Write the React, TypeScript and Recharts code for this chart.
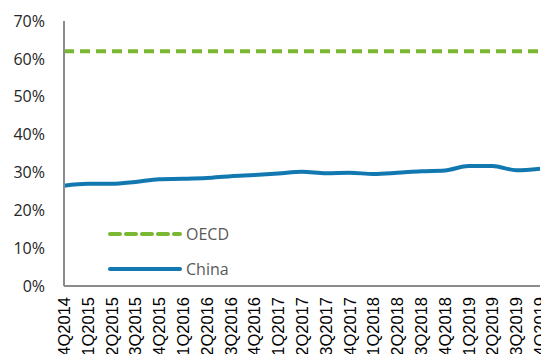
import React from 'react';
import { LineChart, Line, XAxis, YAxis } from 'recharts';

const quarters = [
  '4Q2014', '1Q2015', '2Q2015', '3Q2015', '4Q2015', '1Q2016', '2Q2016', '3Q2016', '4Q2016',
  '1Q2017', '2Q2017', '3Q2017', '4Q2017', '1Q2018', '2Q2018', '3Q2018', '4Q2018',
  '1Q2019', '2Q2019', '3Q2019', '4Q2019',
];
const chinaValues = [
  26.5, 27.0, 27.0, 27.5, 28.2, 28.3, 28.5, 29.0, 29.3, 29.7, 30.2, 29.8, 29.9, 29.6, 29.9,
  30.3, 30.5, 31.7, 31.7, 30.6, 31.0,
];
const oecdValues = quarters.map(() => 62);
const yTicks = [0, 10, 20, 30, 40, 50, 60, 70];

const GREEN = '#7ab733';
const BLUE = '#1178b0';

const data = quarters.map((q, i) => ({ quarter: q, oecd: oecdValues[i], china: chinaValues[i] }));

const legendItems = [
  { name: 'OECD', color: GREEN, dash: '10 6' },
  { name: 'China', color: BLUE, dash: undefined },
];

const QuarterTick = (props: any) => {
  const { x, y, payload } = props;
  return (
    <text
      transform={`translate(${x},${y + 3}) rotate(-90)`}
      textAnchor="end"
      dy="0.36em"
      fontFamily="'Liberation Sans', Arial, sans-serif"
      fontSize={16.5}
      fill="#000"
    >
      {payload.value}
    </text>
  );
};

// legend sits inside the plot, lower left
const LegendBox = () => (
  <div
    style={{
      position: 'absolute',
      left: 108,
      top: 216,
      fontFamily: "'Open Sans', sans-serif",
      fontSize: 16,
      color: '#595959',
    }}
  >
    {legendItems.map((item) => (
      <div key={item.name} style={{ display: 'flex', alignItems: 'center', height: 35 }}>
        <svg width={78} height={10}>
          <line
            x1={2}
            y1={5}
            x2={72}
            y2={5}
            stroke={item.color}
            strokeWidth={4}
            strokeDasharray={item.dash}
            strokeLinecap="round"
          />
        </svg>
        <span>{item.name}</span>
      </div>
    ))}
  </div>
);

export default function App() {
  return (
    <div style={{ position: 'absolute', left: 0, top: 0, width: 541, height: 354, background: '#fff' }}>
      <LineChart width={541} height={354} data={data} margin={{ top: 21, right: 1, left: 0, bottom: 0 }}>
        <XAxis
          dataKey="quarter"
          interval={0}
          height={68}
          tick={<QuarterTick />}
          tickLine={false}
          axisLine={{ stroke: '#8c8c8c', strokeWidth: 2 }}
        />
        <YAxis
          domain={[0, 70]}
          ticks={yTicks}
          width={64}
          tickFormatter={(v) => `${v}%`}
          tick={{ fontFamily: "'Open Sans', sans-serif", fontSize: 16, fill: '#262626' }}
          tickLine={false}
          tickSize={0}
          tickMargin={19}
          axisLine={{ stroke: '#8c8c8c', strokeWidth: 2 }}
        />
        <Line
          type="monotone"
          dataKey="oecd"
          name="OECD"
          stroke={GREEN}
          strokeWidth={4}
          strokeDasharray="10 6"
          dot={false}
          isAnimationActive={false}
        />
        <Line
          type="monotone"
          dataKey="china"
          name="China"
          stroke={BLUE}
          strokeWidth={4}
          dot={false}
          isAnimationActive={false}
        />
      </LineChart>
      <LegendBox />
    </div>
  );
}
